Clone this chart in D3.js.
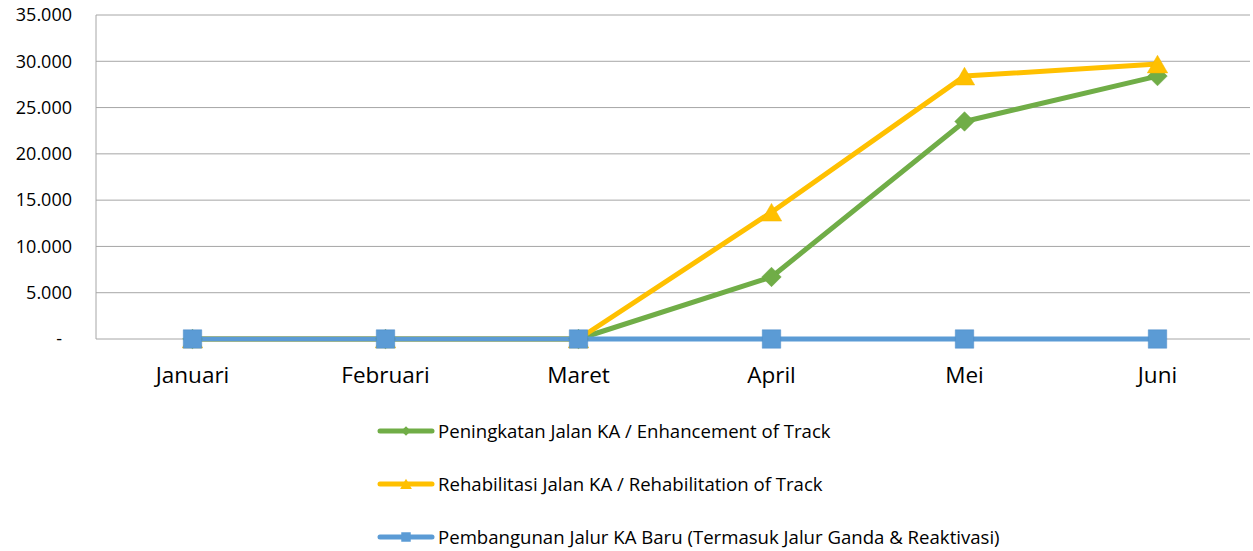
<!DOCTYPE html>
<html>
<head>
<meta charset="utf-8">
<script src="https://cdn.jsdelivr.net/npm/d3@7"></script>
<style>
  body { margin: 0; background: #fff; }
  text { font-family: "Open Sans", sans-serif; fill: #000; }
</style>
</head>
<body>
<div id="chart"></div>
<script>
// data
const months = ["Januari", "Februari", "Maret", "April", "Mei", "Juni"];
const enhancement = [0, 0, 0, 6700, 23500, 28400];
const rehabilitation = [0, 0, 0, 13700, 28400, 29700];
const newTrack = [0, 0, 0, 0, 0, 0];
const yTicks = [0, 5000, 10000, 15000, 20000, 25000, 30000, 35000];
const seriesNames = [
  "Peningkatan Jalan KA / Enhancement of Track",
  "Rehabilitasi Jalan KA / Rehabilitation of Track",
  "Pembangunan Jalur KA Baru (Termasuk Jalur Ganda & Reaktivasi)"
];

const width = 1253, height = 551;
const margin = {top: 15, right: 0, bottom: 212, left: 96};

const svg = d3.select("#chart").append("svg")
    .attr("width", width).attr("height", height);

const x = d3.scaleBand().domain(months).range([margin.left, 1254]);
const y = d3.scaleLinear().domain([0, 35000]).range([height - margin.bottom, margin.top]);

// gridlines
svg.append("g").selectAll("line")
  .data(yTicks.slice(1))
  .enter().append("line")
    .attr("x1", margin.left).attr("x2", 1250)
    .attr("y1", d => y(d)).attr("y2", d => y(d))
    .attr("stroke", "#a6a6a6").attr("stroke-width", 1);

// axes lines
svg.append("line")
  .attr("x1", margin.left).attr("x2", 1250)
  .attr("y1", y(0)).attr("y2", y(0))
  .attr("stroke", "#a6a6a6");
svg.append("line")
  .attr("x1", margin.left).attr("x2", margin.left)
  .attr("y1", y(35000)).attr("y2", y(0))
  .attr("stroke", "#a6a6a6");

// y labels
const fmt = d => d === 0 ? "-" : d3.format(",")(d).replace(/,/g, ".");
svg.append("g").selectAll("text")
  .data(yTicks)
  .enter().append("text")
    .attr("x", d => d === 0 ? 62 : 72)
    .attr("y", d => y(d))
    .attr("dy", "0.35em")
    .attr("text-anchor", "end")
    .style("font-size", "18px")
    .text(fmt);

// x labels
svg.append("g").selectAll("text")
  .data(months)
  .enter().append("text")
    .attr("x", d => x(d) + x.bandwidth() / 2)
    .attr("y", 383)
    .attr("text-anchor", "middle")
    .style("font-size", "22.5px")
    .text(d => d);

const line = d3.line()
  .x((d, i) => x(months[i]) + x.bandwidth() / 2)
  .y(d => y(d));

const series = [
  {values: enhancement, color: "#70ad47", shape: d3.symbolSquare, rot: 45, dy: 0, size: 190, stroke: "#6aa33f"},
  {values: rehabilitation, color: "#ffc000", shape: d3.symbolTriangle, rot: 0, dy: 3, size: 180, stroke: "#f2b600"},
  {values: newTrack, color: "#5b9bd5", shape: d3.symbolSquare, rot: 0, dy: 0, size: 340, stroke: "#4a8ac8"}
];

series.forEach(s => {
  svg.append("path")
    .datum(s.values)
    .attr("fill", "none")
    .attr("stroke", s.color)
    .attr("stroke-width", 5)
    .attr("stroke-linejoin", "round")
    .attr("d", line);
});
series.forEach(s => {
  svg.append("g").selectAll("path")
    .data(s.values)
    .enter().append("path")
      .attr("transform", (d, i) => "translate(" + (x(months[i]) + x.bandwidth() / 2) + "," + (y(d) + s.dy) + ") rotate(" + s.rot + ")")
      .attr("d", d3.symbol().type(s.shape).size(s.size))
      .attr("fill", s.color)
      .attr("stroke", s.stroke)
      .attr("stroke-width", 0.5);
});

// legend
const legendY = [431, 484, 537];
series.forEach((s, i) => {
  const g = svg.append("g").attr("transform", "translate(0," + legendY[i] + ")");
  g.append("line")
    .attr("x1", 380).attr("x2", 432)
    .attr("stroke", s.color).attr("stroke-width", 5)
    .attr("stroke-linecap", "round");
  g.append("path")
    .attr("transform", "translate(406," + (s.dy / 2) + ") rotate(" + s.rot + ")")
    .attr("d", d3.symbol().type(s.shape).size(i === 0 ? 45 : i === 1 ? 60 : 90))
    .attr("fill", s.color);
  g.append("text")
    .attr("x", 438).attr("y", 0).attr("dy", "0.35em")
    .style("font-size", "18.6px")
    .text(seriesNames[i]);
});
</script>
</body>
</html>
